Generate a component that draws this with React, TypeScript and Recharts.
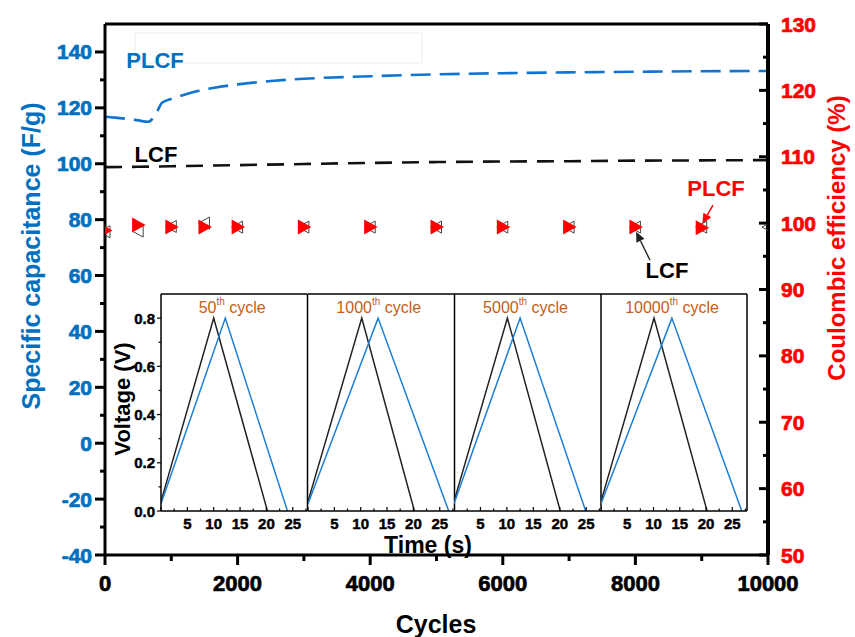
import React from 'react';
import { ComposedChart, LineChart, Line, Scatter, XAxis, YAxis, ReferenceLine } from 'recharts';

const FONT = '"Liberation Sans", Arial, Helvetica, sans-serif';
const BLUE = '#0070C0';
const BLUE_LINE = '#0F74D4';
const RED = '#FF0000';
const ORANGE = '#C65D17';
const INSET_BLUE = '#1A7FD6';

// specific capacitance vs cycle number
const plcfCapCycles = [0, 150, 480, 650, 780, 860, 1000, 1160, 1400, 1650, 2000, 2500, 3000, 4000, 5000, 6000, 7000, 8000, 9000, 10000];
const plcfCap = [116.8, 116.5, 115.6, 115.0, 118.4, 121.8, 123.2, 124.4, 126.0, 127.2, 128.4, 129.6, 130.4, 131.3, 132.0, 132.4, 132.7, 132.9, 133.1, 133.2];
const lcfCapCycles = [0, 500, 1000, 2000, 3000, 4000, 5000, 6000, 7000, 8000, 9000, 10000];
const lcfCap = [98.8, 98.9, 99.1, 99.5, 99.9, 100.3, 100.6, 100.8, 100.9, 101.1, 101.2, 101.3];

// coulombic efficiency vs cycle number
const ceCycles = [0, 500, 1000, 1500, 2000, 3000, 4000, 5000, 6000, 7000, 8000, 9000, 10000];
const plcfCE = [98.9, 99.7, 99.4, 99.4, 99.4, 99.4, 99.4, 99.4, 99.4, 99.4, 99.4, 99.3, null];
const lcfCE = [98.7, 98.8, 99.5, 100.0, 99.4, 99.4, 99.4, 99.4, 99.4, 99.4, 99.4, 99.4, 99.4];

// annotation arrows, [cycle, CE %] from tail to head
const plcfArrow = [[9170, 102.7], [9010, 99.9]];
const lcfArrow = [[8220, 94.4], [8010, 98.7]];

// axis ticks
const cycleTicks = [0, 1000, 2000, 3000, 4000, 5000, 6000, 7000, 8000, 9000, 10000];
const capTicks = [-40, -30, -20, -10, 0, 10, 20, 30, 40, 50, 60, 70, 80, 90, 100, 110, 120, 130, 140];
const ceTicks = [50, 55, 60, 65, 70, 75, 80, 85, 90, 95, 100, 105, 110, 115, 120, 125, 130];

// galvanostatic charge/discharge insets
const gcdCycles = ['50', '1000', '5000', '10000'];
const lcfGcdTime = [[0, 10.0, 20.2], [0, 10.2, 20.2], [0, 10.1, 20.1], [0, 10.1, 20.2]];
const lcfGcdVolt = [[0.04, 0.8, 0], [0.04, 0.8, 0], [0.04, 0.8, 0], [0.04, 0.8, 0]];
const plcfGcdTime = [[0, 12.2, 24.0], [0, 13.3, 26.7], [0, 12.5, 24.9], [0, 13.5, 26.8]];
const plcfGcdVolt = [[0.03, 0.8, 0], [0.03, 0.8, 0], [0.03, 0.8, 0], [0.03, 0.8, 0]];
const timeTicks = [0, 2.5, 5, 7.5, 10, 12.5, 15, 17.5, 20, 22.5, 25, 27.5];
const voltTicks = [0, 0.1, 0.2, 0.3, 0.4, 0.5, 0.6, 0.7, 0.8];
const TIME_MAX = 27.8;
const VOLT_MAX = 0.9;

const panelLeft = [161, 307.5, 454, 601];
const panelWidth = [146.5, 146.5, 147, 146];

const plcfCapData = plcfCapCycles.map((c, i) => ({ cycle: c, cap: plcfCap[i] }));
const lcfCapData = lcfCapCycles.map((c, i) => ({ cycle: c, cap: lcfCap[i] }));
const plcfCeData = ceCycles.map((c, i) => ({ cycle: c, ce: plcfCE[i] })).filter((d) => d.ce != null);
const lcfCeData = ceCycles.map((c, i) => ({ cycle: c, ce: lcfCE[i] }));

const bold = { fontFamily: FONT, fontWeight: 700 };

// heavy label used by all the axis ticks (thin outline in the fill colour)
const TickText = ({ x, y, anchor, size, color, children }: any) => (
  <text
    x={x}
    y={y}
    textAnchor={anchor}
    dominantBaseline="central"
    fontSize={size}
    fill={color}
    stroke={color}
    strokeWidth={size > 18 ? 0.7 : 0.45}
    style={{ fontWeight: 700, fontFamily: FONT }}
  >
    {children}
  </text>
);

const RightTriangle = (props: any) => {
  const { cx, cy } = props;
  if (cx == null || cy == null) return null;
  return <polygon points={`${cx - 6},${cy - 7.5} ${cx - 6},${cy + 7.5} ${cx + 7.5},${cy}`} fill={RED} />;
};

const LeftTriangle = (props: any) => {
  const { cx, cy } = props;
  if (cx == null || cy == null) return null;
  return (
    <polygon
      points={`${cx + 5},${cy - 6} ${cx + 5},${cy + 6} ${cx - 6},${cy}`}
      fill="none"
      stroke="#444"
      strokeWidth={1}
    />
  );
};

const arrowShape = (color: string) => (props: any) => {
  const { x1, y1, x2, y2 } = props;
  const ang = Math.atan2(y2 - y1, x2 - x1);
  const len = 10;
  const w = 4.5;
  const bx = x2 - len * Math.cos(ang);
  const by = y2 - len * Math.sin(ang);
  const pts = `${x2},${y2} ${bx + w * Math.sin(ang)},${by - w * Math.cos(ang)} ${bx - w * Math.sin(ang)},${by + w * Math.cos(ang)}`;
  return (
    <g>
      <line x1={x1} y1={y1} x2={bx} y2={by} stroke={color} strokeWidth={1.4} />
      <polygon points={pts} fill={color} />
    </g>
  );
};

const cycleTick = ({ x, y, payload }: any) => {
  const major = payload.value % 2000 === 0;
  return (
    <g>
      <line x1={x} x2={x} y1={y} y2={y + (major ? 10 : 6)} stroke="#000" strokeWidth={3} />
      {major && (
        <TickText x={x} y={y + 28} anchor="middle" size={22} color="#000">
          {payload.value}
        </TickText>
      )}
    </g>
  );
};

const capTick = ({ x, y, payload }: any) => {
  const major = payload.value % 20 === 0;
  return (
    <g>
      <line x1={x - (major ? 10 : 5)} x2={x} y1={y} y2={y} stroke="#000" strokeWidth={3} />
      {major && (
        <TickText x={x - 13} y={y} anchor="end" size={21} color={BLUE}>
          {payload.value}
        </TickText>
      )}
    </g>
  );
};

const ceTick = ({ x, y, payload }: any) => {
  const major = payload.value % 10 === 0;
  return (
    <g>
      <line x1={x - (major ? 9 : 5)} x2={x} y1={y} y2={y} stroke="#000" strokeWidth={3} />
      {major && (
        <TickText x={x + 13} y={y} anchor="start" size={21} color={RED}>
          {payload.value}
        </TickText>
      )}
    </g>
  );
};

const timeTick = ({ x, y, payload }: any) => {
  const major = payload.value % 5 === 0;
  return (
    <g>
      <line x1={x} x2={x} y1={y} y2={y - (major ? 4 : 2.5)} stroke="#000" strokeWidth={1.2} />
      {major && payload.value > 0 && (
        <TickText x={x} y={y + 12} anchor="middle" size={15} color="#000">
          {payload.value}
        </TickText>
      )}
    </g>
  );
};

const voltTick = ({ x, y, payload }: any) => {
  const major = Math.round(payload.value * 10) % 2 === 0;
  return (
    <g>
      <line x1={x - (major ? 4 : 2.5)} x2={x} y1={y} y2={y} stroke="#000" strokeWidth={1.2} />
      {major && (
        <TickText x={x - 6} y={y} anchor="end" size={15} color="#000">
          {payload.value.toFixed(1)}
        </TickText>
      )}
    </g>
  );
};

const GcdPanel = ({ idx }: { idx: number }) => {
  const yw = idx === 0 ? 46 : 0;
  const black = lcfGcdTime[idx].map((t, i) => ({ t, v: lcfGcdVolt[idx][i] }));
  const blue = plcfGcdTime[idx].map((t, i) => ({ t, v: plcfGcdVolt[idx][i] }));
  const w = yw + panelWidth[idx] + 2;
  return (
    <div style={{ position: 'absolute', left: panelLeft[idx] - yw, top: 292 }}>
      <LineChart width={w} height={249} margin={{ top: 2, right: 2, bottom: 0, left: 0 }}>
        <XAxis
          dataKey="t"
          type="number"
          domain={[0, TIME_MAX]}
          ticks={timeTicks}
          interval={0}
          height={30}
          tickSize={0}
          tickMargin={0}
          tickLine={false}
          axisLine={{ stroke: '#000', strokeWidth: 1.5 }}
          tick={timeTick}
          allowDataOverflow
        />
        <YAxis
          yAxisId="v"
          type="number"
          domain={[0, VOLT_MAX]}
          ticks={voltTicks}
          interval={0}
          width={yw}
          tickSize={0}
          tickMargin={0}
          tickLine={false}
          axisLine={{ stroke: '#000', strokeWidth: 1.5 }}
          tick={idx === 0 ? voltTick : false}
        />
        {/* panel frame: top and right edges */}
        <ReferenceLine yAxisId="v" y={VOLT_MAX} stroke="#000" strokeWidth={1.5} />
        <ReferenceLine yAxisId="v" x={TIME_MAX} stroke="#000" strokeWidth={1.5} />
        <Line yAxisId="v" data={black} dataKey="v" type="linear" stroke="#222" strokeWidth={1.5} dot={false} isAnimationActive={false} />
        <Line yAxisId="v" data={blue} dataKey="v" type="linear" stroke={INSET_BLUE} strokeWidth={1.5} dot={false} isAnimationActive={false} />
      </LineChart>
    </div>
  );
};

export default function App() {
  return (
    <div style={{ position: 'absolute', left: 0, top: 0, width: 855, height: 637, background: '#fff' }}>
      <div style={{ position: 'absolute', left: 0, top: 0 }}>
        <ComposedChart width={855} height={637} margin={{ top: 24, right: 37, bottom: 42, left: 45 }}>
          <XAxis
            dataKey="cycle"
            type="number"
            domain={[0, 10000]}
            ticks={cycleTicks}
            interval={0}
            height={40}
            tickSize={0}
            tickMargin={0}
            tickLine={false}
            axisLine={{ stroke: '#000', strokeWidth: 3 }}
            tick={cycleTick}
            allowDataOverflow
          />
          <YAxis
            yAxisId="left"
            type="number"
            domain={[-40, 150]}
            ticks={capTicks}
            interval={0}
            width={60}
            tickSize={0}
            tickMargin={0}
            tickLine={false}
            axisLine={{ stroke: '#000', strokeWidth: 3 }}
            tick={capTick}
            allowDataOverflow
          />
          <YAxis
            yAxisId="right"
            orientation="right"
            type="number"
            domain={[50, 130]}
            ticks={ceTicks}
            interval={0}
            width={50}
            tickSize={0}
            tickMargin={0}
            tickLine={false}
            axisLine={{ stroke: '#000', strokeWidth: 4 }}
            tick={ceTick}
            allowDataOverflow
          />
          {/* top edge of the frame */}
          <ReferenceLine yAxisId="left" y={150} stroke="#000" strokeWidth={3} />
          <Line yAxisId="left" data={plcfCapData} dataKey="cap" type="monotone" stroke={BLUE_LINE} strokeWidth={2.6} strokeDasharray="20 9" dot={false} isAnimationActive={false} />
          <Line yAxisId="left" data={lcfCapData} dataKey="cap" type="monotone" stroke="#111" strokeWidth={2.6} strokeDasharray="17 10" dot={false} isAnimationActive={false} />
          <Scatter yAxisId="right" data={lcfCeData} dataKey="ce" shape={<LeftTriangle />} isAnimationActive={false} />
          <Scatter yAxisId="right" data={plcfCeData} dataKey="ce" shape={<RightTriangle />} isAnimationActive={false} />
          <ReferenceLine
            yAxisId="right"
            segment={[{ x: plcfArrow[0][0], y: plcfArrow[0][1] }, { x: plcfArrow[1][0], y: plcfArrow[1][1] }]}
            shape={arrowShape(RED)}
          />
          <ReferenceLine
            yAxisId="right"
            segment={[{ x: lcfArrow[0][0], y: lcfArrow[0][1] }, { x: lcfArrow[1][0], y: lcfArrow[1][1] }]}
            shape={arrowShape('#222')}
          />
        </ComposedChart>
      </div>

      {gcdCycles.map((_, i) => (
        <GcdPanel key={i} idx={i} />
      ))}

      <svg width={855} height={637} style={{ position: 'absolute', left: 0, top: 0, pointerEvents: 'none' }}>
        <rect x={135} y={33} width={287} height={30} fill="none" stroke="#ececec" strokeWidth={1} />
        <text transform="translate(31,256) rotate(-90)" textAnchor="middle" dominantBaseline="central" fontSize={25} fill={BLUE} style={bold}>
          Specific capacitance (F/g)
        </text>
        <text transform="translate(836,238) rotate(-90)" textAnchor="middle" dominantBaseline="central" fontSize={24} fill={RED} style={bold}>
          Coulombic efficiency (%)
        </text>
        <text x={436} y={624} textAnchor="middle" dominantBaseline="central" fontSize={25} fill="#000" style={bold}>
          Cycles
        </text>
        <text x={155} y={60} textAnchor="middle" dominantBaseline="central" fontSize={22} fill={BLUE} style={bold}>
          PLCF
        </text>
        <text x={156} y={154} textAnchor="middle" dominantBaseline="central" fontSize={22} fill="#000" style={bold}>
          LCF
        </text>
        <text x={716} y={188} textAnchor="middle" dominantBaseline="central" fontSize={22} fill={RED} style={bold}>
          PLCF
        </text>
        <text x={667} y={270} textAnchor="middle" dominantBaseline="central" fontSize={22} fill="#000" style={bold}>
          LCF
        </text>
        <text transform="translate(122,399) rotate(-90)" textAnchor="middle" dominantBaseline="central" fontSize={22} fill="#000" style={bold}>
          Voltage (V)
        </text>
        <text x={428} y={545} textAnchor="middle" dominantBaseline="central" fontSize={23} fill="#000" style={bold}>
          Time (s)
        </text>
        {gcdCycles.map((c, i) => (
          <text key={c} x={panelLeft[i] + panelWidth[i] / 2 - 2} y={307} textAnchor="middle" dominantBaseline="central" fontFamily={FONT} fontSize={16} fill={ORANGE}>
            <tspan>{c}</tspan>
            <tspan dy={-6} fontSize={10}>th</tspan>
            <tspan dy={6}> cycle</tspan>
          </text>
        ))}
      </svg>
    </div>
  );
}
